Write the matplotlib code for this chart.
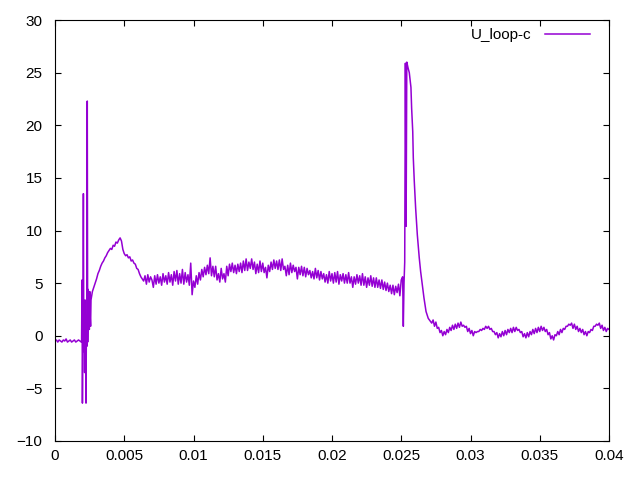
import numpy as np
import matplotlib
matplotlib.use("Agg")
import matplotlib.pyplot as plt

plt.rcParams['font.family'] = ['Liberation Sans', 'DejaVu Sans']

# quiet part before the first spikes, sampled every 0.1 ms
t_a = np.arange(0, 20) * 0.0001
u_a = [-0.5, -0.4, -0.6, -0.4, -0.5, -0.6, -0.4, -0.5, -0.3, -0.6,
       -0.5, -0.4, -0.6, -0.5, -0.4, -0.6, -0.5, -0.4, -0.5, -0.6]

# first burst of spikes
t_b = [0.00192, 0.00195, 0.00198, 0.00202, 0.00205, 0.00208, 0.00211,
       0.00214, 0.00217, 0.0022, 0.00224, 0.00227, 0.0023, 0.00233,
       0.00236, 0.0024, 0.00244, 0.00248, 0.00251, 0.00254, 0.00257]
u_b = [-0.5, 5.3, -6.4, 1.0, 13.5, -1.5, 2.5, -3.5, 3.4, 0.5, -6.4,
       2.0, -1.0, 22.3, -0.6, 4.4, 1.5, 0.6, 4.2, 1.8, 0.9]

# plateau, 0.0026 .. 0.0250 every 0.1 ms
t_c = 0.0026 + np.arange(0, 225) * 0.0001
u_c = [3.4, 4.2, 4.6, 5.0,
       5.4, 5.9, 6.2, 6.6, 6.9, 7.1, 7.4, 7.6, 7.9, 8.1,
       8.3, 8.2, 8.6, 8.5, 8.9, 8.8, 9.1, 9.3, 9.0, 8.2,
       7.8, 7.6, 7.7, 7.4, 7.5, 7.1, 7.2, 6.9, 6.8, 6.4,
       6.3, 5.9, 5.6, 5.4, 5.2, 5.7, 4.9, 5.8, 5.1, 5.6,
       5.3, 4.6, 5.7, 4.9, 5.8, 5.0, 5.6, 4.8, 5.9, 5.1,
       5.7, 4.9, 6.0, 5.1, 5.8, 4.8, 6.1, 5.2, 6.2, 4.9,
       5.9, 5.0, 6.3, 4.9, 6.0, 5.1, 5.8, 4.8, 6.9, 3.9,
       5.2, 4.6, 5.7, 4.9, 6.0, 5.3, 6.3, 5.6, 6.5, 5.8,
       6.7, 5.9, 7.4, 5.7, 6.6, 5.6, 6.6, 5.3, 5.9, 5.1,
       6.4, 5.4, 5.9, 5.1, 6.6, 5.7, 6.8, 6.1, 6.9, 6.0,
       6.7, 5.9, 6.8, 6.1, 6.9, 6.0, 7.1, 6.2, 7.3, 6.2,
       7.0, 6.4, 7.3, 6.3, 7.0, 5.9, 6.8, 6.0, 7.1, 6.1,
       6.9, 6.0, 6.5, 5.5, 6.7, 6.1, 7.0, 6.3, 7.2, 6.4,
       7.1, 6.3, 7.2, 6.2, 7.3, 6.3, 6.6, 5.7, 6.7, 5.8,
       6.9, 6.0, 6.7, 6.1, 6.5, 5.4, 6.5, 5.8, 6.6, 5.7,
       6.5, 5.6, 6.4, 5.8, 6.2, 5.5, 6.1, 5.4, 6.4, 5.5,
       6.2, 5.3, 6.1, 5.4, 5.9, 5.1, 5.8, 5.0, 6.1, 5.2,
       5.9, 5.0, 6.0, 5.1, 6.1, 4.9, 5.8, 5.2, 5.9, 5.0,
       5.8, 5.0, 6.0, 5.0, 5.6, 4.6, 5.6, 4.9, 5.8, 5.0,
       5.7, 4.8, 5.9, 4.8, 5.6, 4.6, 5.5, 4.8, 5.7, 4.7,
       5.5, 4.6, 5.5, 4.6, 5.3, 4.5, 5.3, 4.4, 5.1, 4.3,
       5.0, 4.2, 4.8, 4.0, 4.8, 3.9, 4.7, 4.1, 4.9, 3.8,
       5.3]

# second spike and its decay
t_d = [0.0251, 0.02515, 0.0252, 0.02525, 0.0253, 0.02535, 0.0254,
       0.02545, 0.0255, 0.02558, 0.0257, 0.02575, 0.02583, 0.02587,
       0.02594, 0.02604, 0.02616, 0.0263, 0.0264, 0.02655, 0.02664,
       0.02679, 0.02695, 0.0272]
u_d = [5.6, 0.9, 5.0, 7.0, 25.9, 10.4, 26.0, 25.7, 25.4, 25.0, 23.6,
       21.6, 19.4, 16.9, 14.7, 12.1, 9.6, 7.4, 6.1, 4.5, 3.6, 2.3,
       1.65, 1.2]

# tail, 0.0273 .. 0.0400 every 0.1 ms
t_e = 0.0273 + np.arange(0, 128) * 0.0001
u_e = [1.5, 0.9, 1.3, 0.7, 0.8, 0.3, 0.5,
       0.0, 0.4, 0.1, 0.6, 0.3, 0.8, 0.5, 1.0, 0.6, 1.1,
       0.7, 1.2, 0.8, 1.3, 0.9, 1.0, 0.8, 0.9, 0.4, 0.7,
       0.2, 0.5, 0.0, 0.4, 0.3, 0.4, 0.4, 0.6, 0.5, 0.7,
       0.6, 0.9, 0.7, 0.9, 0.6, 0.7, 0.4, 0.4, 0.1, 0.3,
       -0.2, 0.2, -0.1, 0.4, 0.0, 0.5, 0.1, 0.6, 0.3, 0.7,
       0.3, 0.8, 0.4, 0.8, 0.5, 0.6, 0.3, 0.4, -0.1, 0.2,
       -0.2, 0.3, -0.1, 0.4, 0.1, 0.6, 0.2, 0.7, 0.3, 0.8,
       0.4, 0.9, 0.5, 0.8, 0.4, 0.6, 0.1, 0.3, -0.3, 0.0,
       -0.4, 0.1, 0.0, 0.4, 0.1, 0.6, 0.3, 0.7, 0.6, 0.9,
       0.9, 1.1, 1.0, 1.2, 0.7, 1.1, 0.6, 0.9, 0.4, 0.7,
       0.3, 0.6, 0.1, 0.4, 0.0, 0.4, 0.3, 0.6, 0.5, 0.9,
       0.9, 1.1, 1.0, 1.2, 0.7, 1.0, 0.5, 0.8, 0.4, 0.7,
       0.6]

t = np.concatenate([t_a, t_b, t_c, t_d, t_e])
u = np.concatenate([u_a, u_b, u_c, u_d, u_e])

fig = plt.figure(figsize=(6.4, 4.8), dpi=100)
ax = fig.add_axes([55 / 640, 39 / 480, 554 / 640, 421 / 480])

ax.plot(t, u, c='#9400d3', lw=1.1, label='U_loop-c')

ax.set_xlim(0, 0.04)
ax.set_ylim(-10, 30)
ax.set_xticks([0, 0.005, 0.01, 0.015, 0.02, 0.025, 0.03, 0.035, 0.04])
ax.set_xticklabels(['0', '0.005', '0.01', '0.015', '0.02', '0.025', '0.03', '0.035', '0.04'])
ax.set_yticks([-10, -5, 0, 5, 10, 15, 20, 25, 30])

ax.tick_params(direction='in', length=4.5, width=0.8, top=True, right=True,
               labelsize=11, colors='black')
ax.tick_params(axis='x', pad=6)
ax.tick_params(axis='y', pad=9)
for s in ax.spines.values():
    s.set_linewidth(0.8)

ax.legend(loc='upper right', bbox_to_anchor=(0.9765, 0.995), frameon=False,
          markerfirst=False, handlelength=2.95, fontsize=11, borderaxespad=0,
          handletextpad=0.85)

fig.savefig('out.png', dpi=100)
